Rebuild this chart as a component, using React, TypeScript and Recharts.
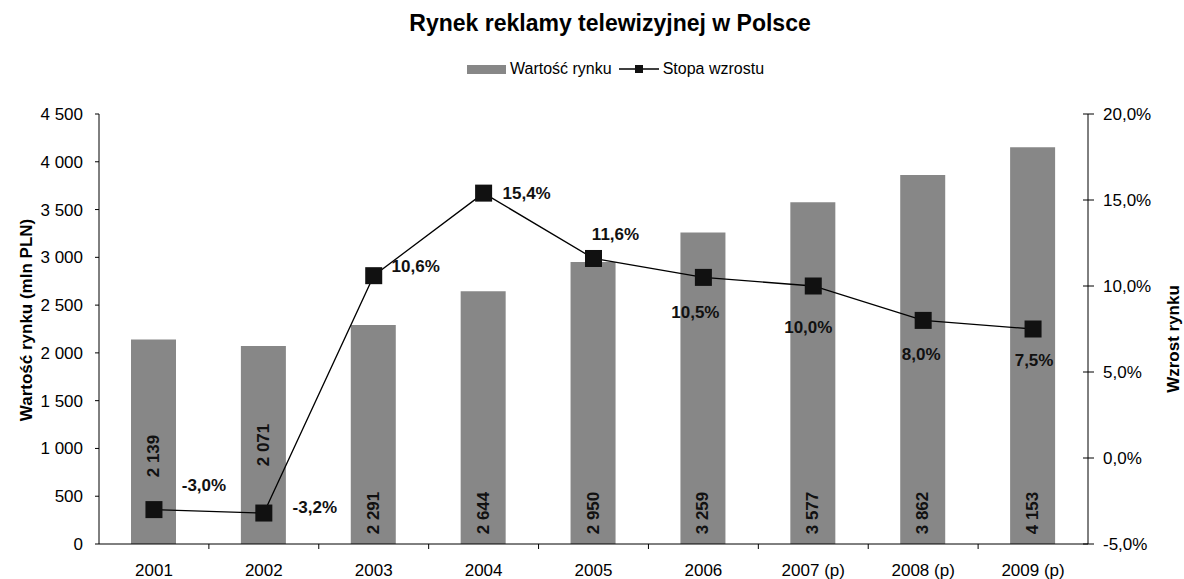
import { ComposedChart, Bar, Line, XAxis, YAxis, LabelList } from "recharts";

const years = ["2001", "2002", "2003", "2004", "2005", "2006", "2007 (p)", "2008 (p)", "2009 (p)"];
const marketValue = [2139, 2071, 2291, 2644, 2950, 3259, 3577, 3862, 4153];
const growthRate = [-3.0, -3.2, 10.6, 15.4, 11.6, 10.5, 10.0, 8.0, 7.5];
const valueTicks = [0, 500, 1000, 1500, 2000, 2500, 3000, 3500, 4000, 4500];
const growthTicks = [-5, 0, 5, 10, 15, 20];

const rows = years.map((year, i) => ({
  year,
  value: marketValue[i],
  growth: growthRate[i],
}));

// layout
const W = 1184;
const H = 579;
const PLOT_LEFT = 99;
const PLOT_RIGHT = 1088;
const PLOT_TOP = 114;
const PLOT_BOTTOM = 544;
const HALF_BAND = (PLOT_RIGHT - PLOT_LEFT) / years.length / 2;
const FONT = "'Liberation Sans', Arial, sans-serif";
const BAR_COLOR = "#878787";

// where excel put the labels, relative to the point / bar base
const growthLabelOffset = [
  [50, -24], [51, -6], [42, -9], [43, 0], [22, -24],
  [-8, 35], [-5, 41], [-2, 34], [1, 31],
];
const barLabelLift = [88, 99, 31, 31, 31, 31, 31, 31, 31];

const fmtValue = (v: number) =>
  v >= 1000 ? `${Math.floor(v / 1000)} ${String(v % 1000).padStart(3, "0")}` : String(v);
const fmtPct = (v: number) => `${v.toFixed(1).replace(".", ",")}%`;

function BarValueLabel(props: any) {
  const { index, value } = props;
  const vb = props.viewBox || {};
  const x = props.x ?? vb.x;
  const width = props.width ?? vb.width;
  const cx = x + width / 2;
  const cy = PLOT_BOTTOM - barLabelLift[index];
  return (
    <text
      x={cx}
      y={cy}
      transform={`rotate(-90 ${cx} ${cy})`}
      textAnchor="middle"
      dominantBaseline="central"
      fontFamily={FONT}
      fontWeight="bold"
      fontSize={17}
      fill="#111"
    >
      {fmtValue(value)}
    </text>
  );
}

function GrowthLabel(props: any) {
  const { x, y, index, value } = props;
  const [dx, dy] = growthLabelOffset[index];
  return (
    <text
      x={x + dx}
      y={y + dy}
      textAnchor="middle"
      dominantBaseline="central"
      fontFamily={FONT}
      fontWeight="bold"
      fontSize={17}
      fill="#111"
    >
      {fmtPct(value)}
    </text>
  );
}

function SquareDot(props: any) {
  const { cx, cy, index } = props;
  return <rect key={`dot-${index}`} x={cx - 8.5} y={cy - 8.5} width={17} height={17} fill="#111" />;
}

function YearTick(props: any) {
  const { x, payload, index } = props;
  return (
    <g>
      {index < years.length - 1 && (
        <line x1={x + HALF_BAND} x2={x + HALF_BAND} y1={PLOT_BOTTOM} y2={PLOT_BOTTOM + 5} stroke="#000" />
      )}
      <text x={x} y={PLOT_BOTTOM + 20} dy="0.71em" textAnchor="middle" fontFamily={FONT} fontSize={17} fill="#000">
        {payload.value}
      </text>
    </g>
  );
}

function GrowthTick(props: any) {
  const { y, payload } = props;
  return (
    <g>
      <line x1={PLOT_RIGHT - 5} x2={PLOT_RIGHT + 6} y1={y} y2={y} stroke="#000" />
      <text x={PLOT_RIGHT + 15} y={y} dy="0.355em" textAnchor="start" fontFamily={FONT} fontSize={17} fill="#000">
        {fmtPct(payload.value)}
      </text>
    </g>
  );
}

export default function App() {
  return (
    <div style={{ position: "absolute", left: 0, top: 0, width: W, height: H, background: "#fff", fontFamily: FONT }}>
      <div
        style={{
          position: "absolute", left: 610, top: 9, transform: "translateX(-50%)", whiteSpace: "nowrap",
          fontSize: 23, fontWeight: "bold", lineHeight: "28px", color: "#000",
        }}
      >
        Rynek reklamy telewizyjnej w Polsce
      </div>

      {/* legend */}
      <div style={{ position: "absolute", left: 467, top: 60, height: 18, display: "flex", alignItems: "center", fontSize: 16, color: "#000", whiteSpace: "nowrap" }}>
        <span style={{ display: "inline-block", width: 39, height: 9, background: BAR_COLOR, marginRight: 4 }} />
        <span>Wartość rynku</span>
        <svg width={40} height={18} style={{ margin: "0 4px 0 7px" }}>
          <line x1={0} x2={40} y1={9} y2={9} stroke="#000" strokeWidth={1.3} />
          <rect x={16} y={5} width={8} height={8} fill="#111" />
        </svg>
        <span>Stopa wzrostu</span>
      </div>

      <div
        style={{
          position: "absolute", left: 27, top: 320, transform: "translate(-50%, -50%) rotate(-90deg)",
          fontSize: 17, fontWeight: "bold", whiteSpace: "nowrap", color: "#000",
        }}
      >
        Wartość rynku (mln PLN)
      </div>
      <div
        style={{
          position: "absolute", left: 1174, top: 339, transform: "translate(-50%, -50%) rotate(-90deg)",
          fontSize: 17, fontWeight: "bold", whiteSpace: "nowrap", color: "#000",
        }}
      >
        Wzrost rynku
      </div>

      <ComposedChart
        width={W}
        height={H}
        data={rows}
        margin={{ top: PLOT_TOP, right: 0, bottom: 0, left: 0 }}
        style={{ position: "absolute", left: 0, top: 0 }}
      >
        <XAxis
          dataKey="year"
          height={H - PLOT_BOTTOM}
          stroke="#000"
          tickLine={false}
          tick={<YearTick />}
          interval={0}
        />
        <YAxis
          yAxisId="left"
          width={PLOT_LEFT}
          domain={[0, 4500]}
          ticks={valueTicks}
          tickFormatter={fmtValue}
          stroke="#000"
          tickSize={4}
          tickMargin={12}
          tick={{ fill: "#000", fontSize: 17, fontFamily: FONT }}
          interval={0}
        />
        <YAxis
          yAxisId="right"
          orientation="right"
          width={W - PLOT_RIGHT}
          domain={[-5, 20]}
          ticks={growthTicks}
          stroke="#000"
          tickLine={false}
          tick={<GrowthTick />}
          interval={0}
        />
        <Bar yAxisId="left" dataKey="value" fill={BAR_COLOR} barSize={45} isAnimationActive={false}>
          <LabelList dataKey="value" content={<BarValueLabel />} />
        </Bar>
        <Line
          yAxisId="right"
          dataKey="growth"
          type="linear"
          stroke="#000"
          strokeWidth={1.3}
          dot={<SquareDot />}
          activeDot={false}
          isAnimationActive={false}
        >
          <LabelList dataKey="growth" content={<GrowthLabel />} />
        </Line>
      </ComposedChart>
    </div>
  );
}
